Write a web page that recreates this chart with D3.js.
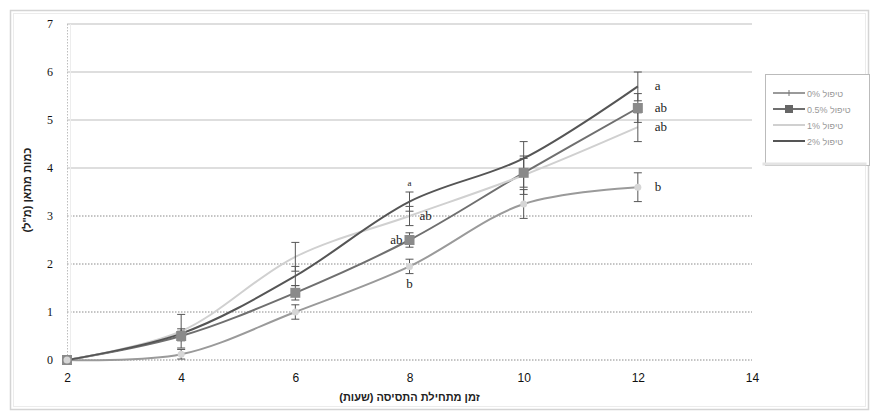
<!DOCTYPE html>
<html>
<head>
<meta charset="utf-8">
<script src="https://cdn.jsdelivr.net/npm/d3@7"></script>
<style>
  body { margin: 0; background: #fff; }
  svg { display: block; font-family: "Liberation Sans", "DejaVu Sans", Arial, sans-serif; }
</style>
</head>
<body>
<div id="chart"></div>
<script>
var W = 875, H = 419;
var margin = {top: 24, right: 123, bottom: 59, left: 67},
  width = W - margin.left - margin.right,
  height = H - margin.top - margin.bottom;

// hours since start of fermentation
var hours = [2, 4, 6, 8, 10, 12];
var xTicks = [2, 4, 6, 8, 10, 12, 14];
var yTicks = [0, 1, 2, 3, 4, 5, 6, 7];

var seriesNames = ["טיפול 0%", "טיפול 0.5%", "טיפול 1%", "טיפול 2%"];
// methane volume (ml) per treatment
var t0 = [0, 0.12, 1.0, 1.95, 3.25, 3.6];
var t05 = [0, 0.5, 1.4, 2.5, 3.9, 5.25];
var t1 = [0, 0.6, 2.15, 3.0, 3.85, 4.85];
var t2 = [0, 0.55, 1.75, 3.3, 4.2, 5.7];
// error (+/-)
var e0 = [0.05, 0.1, 0.15, 0.15, 0.3, 0.3];
var e05 = [0.05, 0.1, 0.15, 0.15, 0.3, 0.3];
var e1 = [0.05, 0.35, 0.3, 0.2, 0.4, 0.3];
var e2 = [0.05, 0.1, 0.2, 0.2, 0.35, 0.3];
// significance letters at 8 h and 12 h
var letters8 = ["b", "ab", "ab", "a"];
var letters12 = ["b", "ab", "ab", "a"];

var values = [t0, t05, t1, t2];
var errors = [e0, e05, e1, e2];
var colors = ["#9a9a9a", "#6f6f6f", "#d0d0d0", "#555555"];

var svg = d3.select("#chart").append("svg")
  .attr("width", W)
  .attr("height", H);

// chart border (scanned double frame)
svg.append("rect").attr("x", 10.5).attr("y", 10.5).attr("width", 858).attr("height", 399)
  .attr("fill", "none").attr("stroke", "#d4d4d4").attr("stroke-width", 1.5);
svg.append("rect").attr("x", 13.5).attr("y", 13.5).attr("width", 852).attr("height", 393)
  .attr("fill", "none").attr("stroke", "#ececec");

var g = svg.append("g")
  .attr("transform", "translate(" + margin.left + "," + margin.top + ")");

var x = d3.scaleLinear().domain([2, 14]).range([0, width]);
var y = d3.scaleLinear().domain([0, 7]).range([height, 0]);

// gridlines
g.selectAll(".grid")
  .data(yTicks)
  .join("line")
  .attr("class", "grid")
  .attr("x1", 0).attr("x2", width)
  .attr("y1", (d) => y(d)).attr("y2", (d) => y(d))
  .attr("stroke", (d) => d >= 4 ? "#dedede" : "#8a8a8a")
  .attr("stroke-width", (d) => d >= 4 ? 2 : 1)
  .attr("stroke-dasharray", (d) => d >= 4 ? null : "1.5,1.5");

g.append("line")
  .attr("x1", 0.5).attr("x2", 0.5).attr("y1", 0).attr("y2", height)
  .attr("stroke", "#bdbdbd").attr("stroke-dasharray", "1.5,1.5");
g.append("line")
  .attr("x1", 3.5).attr("x2", 3.5).attr("y1", 0).attr("y2", height)
  .attr("stroke", "#ededed");

// axes
var yAxis = d3.axisLeft(y).tickValues(yTicks).tickFormat(d3.format("d")).tickSize(0).tickPadding(14);
var xAxis = d3.axisBottom(x).tickValues(xTicks).tickFormat(d3.format("d")).tickSize(0).tickPadding(13);

var ya = g.append("g").call(yAxis);
ya.select(".domain").remove();
ya.selectAll("text").style("font-family", "'Liberation Serif', 'DejaVu Serif', serif")
  .style("font-size", "12px").attr("fill", "#111");

var xa = g.append("g").attr("transform", "translate(0," + height + ")").call(xAxis);
xa.select(".domain").remove();
xa.selectAll("text").style("font-size", "12px").attr("fill", "#111");

// axis titles
svg.append("text")
  .attr("transform", "translate(31," + 190 + ") rotate(-90)")
  .attr("text-anchor", "middle")
  .style("font-size", "11px")
  .style("font-weight", "bold")
  .attr("fill", "#222")
  .text("כמות מתאן (מ\"ל)");

svg.append("text")
  .attr("x", margin.left + x(8))
  .attr("y", 401)
  .attr("text-anchor", "middle")
  .style("font-size", "11px")
  .style("font-weight", "bold")
  .attr("fill", "#222")
  .text("זמן מתחילת התסיסה (שעות)");

var line = d3.line()
  .x((d, i) => x(hours[i]))
  .y((d) => y(d))
  .curve(d3.curveCatmullRom.alpha(0.5));

// lines
values.forEach(function(vals, s) {
  g.append("path")
    .datum(vals)
    .attr("fill", "none")
    .attr("stroke", colors[s])
    .attr("stroke-width", 2)
    .attr("d", line);
});

// error bars
values.forEach(function(vals, s) {
  var eb = g.append("g").attr("stroke", "#555").attr("stroke-width", 1);
  vals.forEach(function(v, i) {
    var px = x(hours[i]), e = errors[s][i];
    eb.append("line").attr("x1", px).attr("x2", px).attr("y1", y(v - e)).attr("y2", y(v + e));
    eb.append("line").attr("x1", px - 4).attr("x2", px + 4).attr("y1", y(v - e)).attr("y2", y(v - e));
    eb.append("line").attr("x1", px - 4).attr("x2", px + 4).attr("y1", y(v + e)).attr("y2", y(v + e));
  });
});

// markers
g.selectAll(".sq")
  .data(t05)
  .join("rect")
  .attr("x", (d, i) => x(hours[i]) - 5)
  .attr("y", (d) => y(d) - 5)
  .attr("width", 10).attr("height", 10)
  .attr("fill", "#8a8a8a");

g.selectAll(".ci")
  .data(t0)
  .join("circle")
  .attr("cx", (d, i) => x(hours[i]))
  .attr("cy", (d) => y(d))
  .attr("r", 3.5)
  .attr("fill", "#d6d6d6");

// significance letters
var letterStyle = function(sel) {
  sel.style("font-family", "'Liberation Serif', 'DejaVu Serif', serif")
    .style("font-size", "13px")
    .attr("fill", "#222");
};
var i12 = hours.indexOf(12), i8 = hours.indexOf(8);
values.forEach(function(vals, s) {
  g.append("text")
    .attr("x", x(12) + 17)
    .attr("y", y(vals[i12]) + 4)
    .text(letters12[s])
    .call(letterStyle);
});
// at 8 h: b below, ab left, ab right, a above
var off8 = [[0, 22, "middle"], [-7, 4, "end"], [10, 4, "start"], [0, -16, "middle"]];
values.forEach(function(vals, s) {
  g.append("text")
    .attr("x", x(8) + off8[s][0])
    .attr("y", y(vals[i8]) + off8[s][1])
    .attr("text-anchor", off8[s][2])
    .text(letters8[s])
    .call(letterStyle)
    .style("font-size", s == 3 ? "9px" : "13px");
});

// legend
var legend = svg.append("g").attr("transform", "translate(765,74)");
legend.append("rect").attr("x", 0.5).attr("y", 0.5).attr("width", 104).attr("height", 91)
  .attr("fill", "#fff").attr("stroke", "#bbb");
legend.append("rect").attr("x", -2.5).attr("y", 88.5).attr("width", 104).attr("height", 3)
  .attr("fill", "#e4e4e4").attr("stroke", "none");

seriesNames.forEach(function(name, s) {
  var ly = 19 + s * 16;
  legend.append("line").attr("x1", 8).attr("x2", 40).attr("y1", ly).attr("y2", ly)
    .attr("stroke", colors[s]).attr("stroke-width", 2);
  if (s == 0) {
    legend.append("line").attr("x1", 24).attr("x2", 24).attr("y1", ly - 3).attr("y2", ly + 3)
      .attr("stroke", "#777");
  }
  if (s == 1) {
    legend.append("rect").attr("x", 20).attr("y", ly - 4).attr("width", 8).attr("height", 8)
      .attr("fill", "#666");
  }
  legend.append("text")
    .attr("x", 42)
    .attr("y", ly + 3.5)
    .style("font-size", "9px")
    .attr("fill", "#999")
    .text(name);
});
</script>
</body>
</html>
